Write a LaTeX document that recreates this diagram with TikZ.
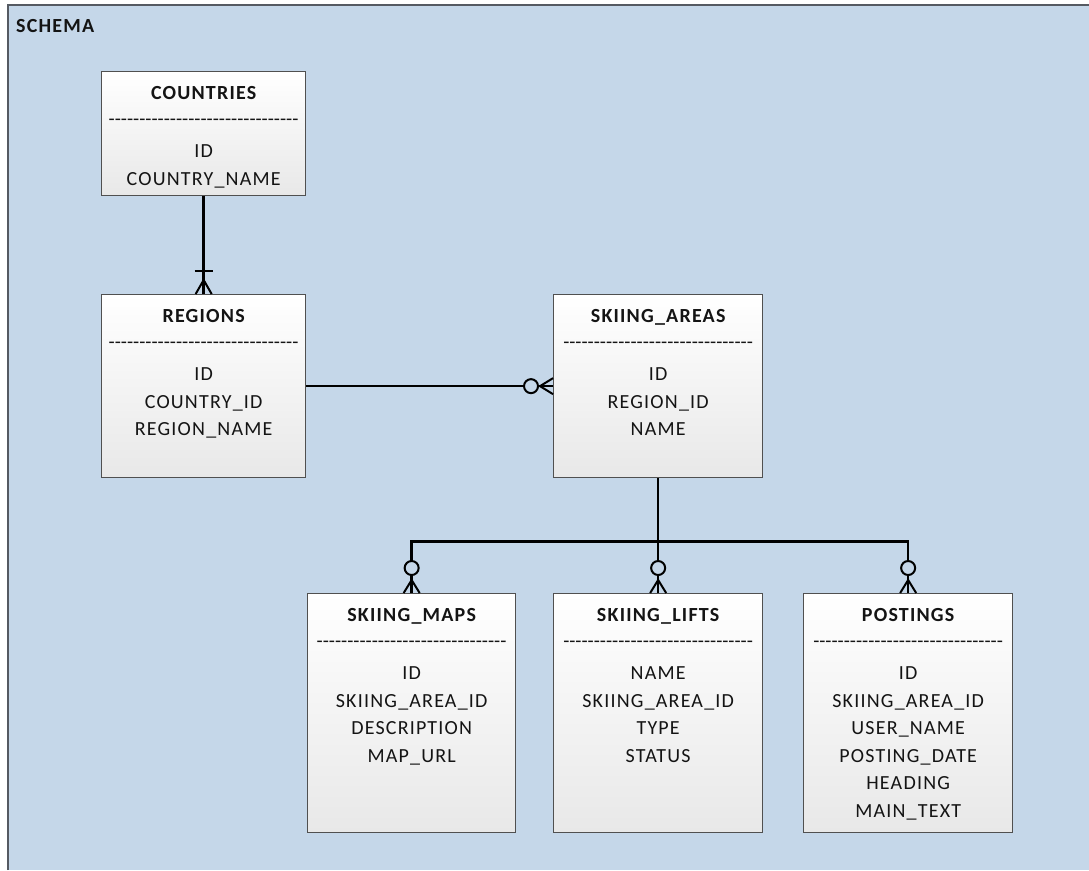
\documentclass[tikz,border=0pt]{standalone}
\usepackage{fontspec}
\setmainfont{Carlito}[LetterSpace=6]
\definecolor{bgblue}{RGB}{197,215,233}
\definecolor{frameline}{RGB}{85,90,98}
\definecolor{boxline}{RGB}{80,80,80}
\definecolor{boxbot}{RGB}{232,232,232}
\definecolor{txt}{RGB}{20,20,20}
\newcommand\sepline{\foreach \i in {1,...,31}{-\kern0pt}}
\newcommand\entitybox[7]{%
  \node[entity, minimum width=#4, minimum height=#5] (#1) at (#2,#3) {};
  \node[ttl] (#1-t) at ([yshift=-28pt]#1.north) {#6};
  \node[sep] (#1-s) at ([yshift=-54pt]#1.north) {\sepline};
  \node[fields] (#1-f) at ([yshift=-73.5pt]#1.north) {#7};
}
\tikzset{
  entity/.style={draw=boxline, line width=1.3pt, top color=white, bottom color=boxbot, inner sep=0pt, anchor=north west},
  ttl/.style={anchor=base, inner sep=0pt, text=txt, font=\bfseries\fontsize{20}{24}\selectfont},
  sep/.style={anchor=base, inner sep=0pt, text=txt, font=\fontsize{20}{24}\selectfont},
  fields/.style={anchor=north, inner sep=0pt, align=center, text=txt, font=\fontsize{20}{27.5}\selectfont},
  conn/.style={line width=2.6pt, black},
  cfoot/.style={line width=2pt, black},
  zero/.style={line width=2pt, black, fill=bgblue}
}
\begin{document}
\begin{tikzpicture}[x=1pt,y=-1pt]
\useasboundingbox (0,0) rectangle (1089,870);
\fill[white] (0,0) rectangle (1089,870);
\fill[bgblue] (8,5) rectangle (1089,870);
\draw[frameline, line width=1.8pt] (8,870) -- (8,5) -- (1089,5);
\node[anchor=base west, inner sep=0pt, text=txt, font=\bfseries\fontsize{20}{24}\selectfont] (schema) at (16,32) {SCHEMA};

\entitybox{countries}{101}{71}{204}{124}{COUNTRIES}{ID\\COUNTRY\_NAME}
\entitybox{regions}{101}{294}{204}{183}{REGIONS}{ID\\COUNTRY\_ID\\REGION\_NAME}
\entitybox{areas}{553}{294}{209}{183}{SKIING\_AREAS}{ID\\REGION\_ID\\NAME}
\entitybox{maps}{307}{593}{208}{239}{SKIING\_MAPS}{ID\\SKIING\_AREA\_ID\\DESCRIPTION\\MAP\_URL}
\entitybox{lifts}{553}{593}{209}{239}{SKIING\_LIFTS}{NAME\\SKIING\_AREA\_ID\\TYPE\\STATUS}
\entitybox{posts}{803}{593}{209}{239}{POSTINGS}{ID\\SKIING\_AREA\_ID\\USER\_NAME\\POSTING\_DATE\\HEADING\\MAIN\_TEXT}

% COUNTRIES -> REGIONS (one to many)
\draw[conn] (countries.south) -- (regions.north);
\draw[cfoot] ([xshift=-9pt,yshift=23pt]regions.north) -- ([xshift=9pt,yshift=23pt]regions.north);
\draw[cfoot] ([xshift=-8pt]regions.north) -- ([yshift=14pt]regions.north) -- ([xshift=8pt]regions.north);

% REGIONS -> SKIING_AREAS (zero or many)
\draw[conn] (regions.east) -- (areas.west);
\draw[cfoot] ([yshift=8pt]areas.west) -- ([xshift=-13pt]areas.west) -- ([yshift=-8pt]areas.west);
\draw[cfoot] ([xshift=-13pt]areas.west) -- (areas.west);
\draw[zero] ([xshift=-22pt]areas.west) circle[radius=7pt];

% SKIING_AREAS -> children
\draw[conn] (areas.south) -- ++(0,63) coordinate (junction);
\draw[conn] (maps.north) |- (junction) -| (posts.north);
\draw[conn] (lifts.north) -- (junction);
\foreach \b in {maps,lifts,posts}{
  \draw[cfoot] ([xshift=-8pt]\b.north) -- ([yshift=13pt]\b.north) -- ([xshift=8pt]\b.north);
  \draw[zero] ([yshift=25pt]\b.north) circle[radius=7pt];
}
\end{tikzpicture}
\end{document}
